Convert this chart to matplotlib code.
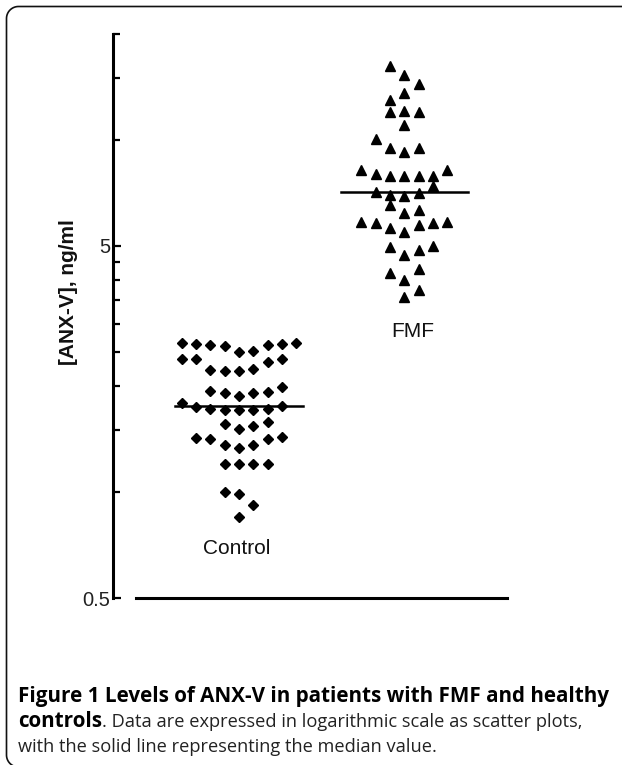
import numpy as np
import matplotlib
matplotlib.use("Agg")
import matplotlib.pyplot as plt
from matplotlib.lines import Line2D
from matplotlib.ticker import FixedLocator, NullFormatter

# ---------------- data (ng/ml)
groups = ["Control", "FMF"]

control_values = [2.65, 2.63, 2.62, 2.60, 2.50, 2.52, 2.62, 2.63, 2.65,
                  2.39, 2.39, 2.22, 2.21, 2.20, 2.23, 2.34, 2.39,
                  1.93, 1.91, 1.87, 1.91, 1.92, 1.99,
                  1.79, 1.74, 1.72, 1.71, 1.71, 1.71, 1.72, 1.76,
                  1.56, 1.51, 1.54, 1.58,
                  1.42, 1.41, 1.36, 1.33, 1.36, 1.41, 1.43,
                  1.20, 1.20, 1.20, 1.20,
                  1.00, 0.985, 0.92, 0.85]
control_cols = [-4, -3, -2, -1, 0, 1, 2, 3, 4,
                -4, -3, -2, -1, 0, 1, 2, 3,
                -2, -1, 0, 1, 2, 3,
                -4, -3, -2, -1, 0, 1, 2, 3,
                -1, 0, 1, 2,
                -3, -2, -1, 0, 1, 2, 3,
                -1, 0, 1, 2,
                -1, 0, 1, 0]

fmf_values = [16.2, 15.3, 14.4, 13.6, 13.0, 12.0, 12.1, 12.0, 11.0,
              10.05, 9.47, 9.27, 9.47,
              8.22, 8.01, 7.91, 7.91, 7.91, 7.91, 8.22, 7.40,
              7.13, 6.98, 6.95, 7.06, 6.54, 6.22, 6.33,
              5.86, 5.82, 5.64, 5.49, 5.74, 5.82, 5.86,
              4.98, 4.71, 4.87, 5.00, 4.20, 4.00, 4.29, 3.59, 3.75]
fmf_cols = [-1, 0, 1, 0, -1, -1, 0, 1, 0,
            -2, -1, 0, 1,
            -3, -2, -1, 0, 1, 2, 3, 2,
            -2, -1, 0, 1, -1, 0, 1,
            -3, -2, -1, 0, 1, 2, 3,
            -1, 0, 1, 2, -1, 0, 1, 0, 1]

major_ticks = [0.5, 5]
minor_ticks = [1, 1.5, 2, 2.5, 3, 3.5, 4, 4.5, 10, 15, 20]

caption1 = "Figure 1 Levels of ANX-V in patients with FMF and healthy"
caption2a = "controls"
caption2b = ". Data are expressed in logarithmic scale as scatter plots,"
caption3 = "with the solid line representing the median value."

# ---------------- figure
W, H = 622, 765
fig = plt.figure(figsize=(W / 100, H / 100), dpi=100)

# frame: top line + left line with rounded corners (pixel coords, y from bottom)
rad = 12
left, top, bottom = 6.5, 758.5, -2
a = np.linspace(np.pi, np.pi / 2, 20)
fx = np.concatenate([left + rad + rad * np.cos(np.linspace(1.5 * np.pi, np.pi, 20)),
                     left + rad + rad * np.cos(a), [W + 10]])
fy = np.concatenate([bottom + rad + rad * np.sin(np.linspace(1.5 * np.pi, np.pi, 20)),
                     top - rad + rad * np.sin(a), [top]])
fig.add_artist(Line2D(fx / W, fy / H, transform=fig.transFigure, color="#111111", lw=1.2))

ax = fig.add_axes([113 / W, 1 - 598 / H, (507 - 113) / W, (598 - 34) / H])
ax.set_yscale("log")
ax.set_ylim(0.5, 20)
ax.set_xlim(0.238, 2.621)

step = 0.0865
xc = 1 + np.array(control_cols) * step
xf = 2 + np.array(fmf_cols) * step
ax.plot(xc, control_values, ls="none", marker="D", ms=5.0, color="black", mec="black")
ax.plot(xf, fmf_values, ls="none", marker="^", ms=7.4, color="black", mec="black")

# median lines
half = 0.385
for g, vals in zip([1, 2], [control_values, fmf_values]):
    ax.plot([g - half, g + half], [np.median(vals)] * 2, color="black", lw=1.8)

# group labels
ax.text(0.986, 0.693, groups[0], ha="center", va="center", fontsize=15,
        family="Liberation Sans", color="#111111")
ax.text(2.053, 2.85, groups[1], ha="center", va="center", fontsize=15,
        family="Liberation Sans", color="#111111")

# axes styling
for s in ["top", "right"]:
    ax.spines[s].set_visible(False)
ax.spines["left"].set_linewidth(2.2)
ax.spines["bottom"].set_linewidth(2.2)
ax.spines["bottom"].set_bounds(0.377, 2.621)
ax.set_xticks([])
ax.yaxis.set_major_locator(FixedLocator(major_ticks))
ax.yaxis.set_minor_locator(FixedLocator(minor_ticks))
ax.yaxis.set_minor_formatter(NullFormatter())
ax.set_yticklabels(["0.5", "5"])
ax.tick_params(axis="y", which="major", direction="in", length=6, width=1.6, pad=2,
               labelsize=14.5, labelcolor="#222222")
ax.tick_params(axis="y", which="minor", direction="in", length=5, width=1.6)
for lab in ax.get_yticklabels():
    lab.set_family("Liberation Sans")

fig.text(69 / W, 1 - 292 / H, "[ANX-V], ng/ml", rotation=90, ha="center", va="center",
         fontsize=15, fontweight="bold", family="Liberation Sans", color="#111111")

# ---------------- caption
cap_font = "Open Sans"
t1 = fig.text(18 / W, 1 - 702 / H, caption1, fontsize=12, fontweight="bold",
              family=cap_font, va="baseline", ha="left")
t3 = fig.text(18 / W, 1 - 752 / H, caption3, fontsize=12, family=cap_font,
              va="baseline", ha="left", color="#222222")
fig.canvas.draw()
r = fig.canvas.get_renderer()
t1.set_fontsize(12 * 592 / t1.get_window_extent(r).width)
t3.set_fontsize(12 * 419 / t3.get_window_extent(r).width)
fig.canvas.draw()

t2a = fig.text(18 / W, 1 - 727 / H, caption2a, fontsize=t1.get_fontsize(), fontweight="bold",
               family=cap_font, va="baseline", ha="left")
fig.canvas.draw()
x2 = t2a.get_window_extent(r).x1
fig.text(x2 / W, 1 - 727 / H, caption2b, fontsize=t3.get_fontsize(), family=cap_font,
         va="baseline", ha="left", color="#222222")

fig.savefig("out.png", dpi=100)
